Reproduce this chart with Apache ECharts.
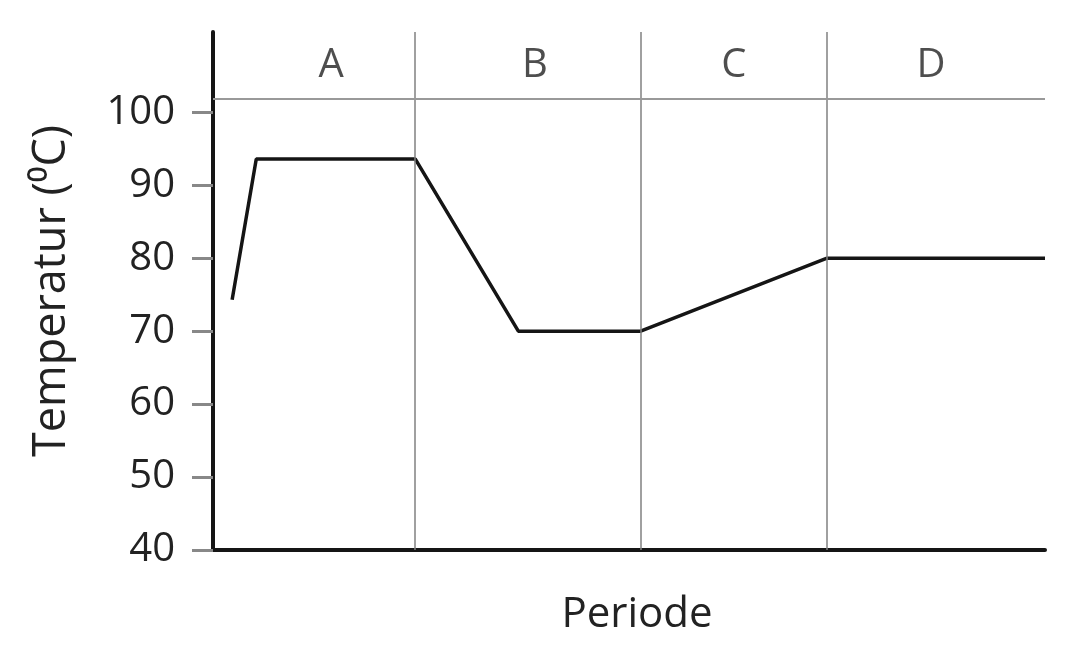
<!DOCTYPE html>
<html>
<head>
<meta charset="utf-8">
<script src="https://cdn.jsdelivr.net/npm/echarts@6/dist/echarts.min.js"></script>
<style>
    html, body { margin: 0; padding: 0; background: #fff; }
    #chart { width: 1089px; height: 651px; }
</style>
</head>
<body>
<div id="chart"></div>
<script>
// time position (0-100 along the period axis) and temperature
var timePos = [2.3, 5.2, 24.3, 36.7, 51.4, 73.8, 100];
var temps = [74.3, 93.6, 93.6, 70, 70, 80, 80];

// period boundaries and labels
var periodBounds = [24.3, 51.4, 73.8];
var periodNames = ['A', 'B', 'C', 'D'];
var periodLabelPos = [14.2, 38.7, 62.6, 86.3];
var periodLabelY = 106.4;
var headerLineY = 101.8;

var yTicks = [40, 50, 60, 70, 80, 90, 100];

var FONT = '"Open Sans", sans-serif';

var lineData = [];
for (var i = 0; i < timePos.length; i++) {
    lineData.push([timePos[i], temps[i]]);
}
var labelData = [];
for (var j = 0; j < periodNames.length; j++) {
    labelData.push([periodLabelPos[j], periodLabelY, periodNames[j]]);
}
var vLines = periodBounds.map(function (x) { return { xAxis: x }; });

var myChart = echarts.init(document.getElementById('chart'));
myChart.setOption({
    animation: false,
    grid: { left: 213, right: 44, top: 32, bottom: 101 },
    xAxis: {
        type: 'value',
        min: 0,
        max: 100,
        name: 'Periode',
        nameLocation: 'middle',
        nameGap: 44,
        nameTextStyle: { fontFamily: FONT, fontSize: 42, color: '#222', padding: [0, 0, 0, 16] },
        axisLine: { lineStyle: { color: '#151515', width: 4 } },
        axisTick: { show: false },
        axisLabel: { show: false },
        splitLine: { show: false }
    },
    yAxis: {
        type: 'value',
        min: 40,
        max: 111,
        interval: 10,
        name: 'Temperatur (\u2070C)',
        nameLocation: 'middle',
        nameGap: 138,
        nameTextStyle: { fontFamily: FONT, fontSize: 45, color: '#222' },
        axisLine: { show: true, lineStyle: { color: '#151515', width: 4 } },
        axisTick: {
            show: true,
            length: 21,
            customValues: yTicks,
            lineStyle: { color: '#888', width: 3 }
        },
        axisLabel: {
            margin: 38,
            customValues: yTicks,
            fontFamily: FONT,
            fontSize: 40,
            color: '#222'
        },
        splitLine: { show: false }
    },
    series: [
        {
            type: 'line',
            data: lineData,
            symbol: 'none',
            lineStyle: { color: '#151515', width: 3.5 },
            markLine: {
                silent: true,
                symbol: 'none',
                label: { show: false },
                lineStyle: { color: '#808080', width: 1.5, type: 'solid' },
                data: vLines.concat([{ yAxis: headerLineY, lineStyle: { color: '#999', width: 2 } }])
            }
        },
        {
            type: 'scatter',
            data: labelData,
            symbolSize: 0,
            silent: true,
            label: {
                show: true,
                position: 'inside',
                fontFamily: FONT,
                fontSize: 40,
                color: '#222',
                formatter: function (p) { return p.value[2]; }
            }
        }
    ]
});
</script>
</body>
</html>
